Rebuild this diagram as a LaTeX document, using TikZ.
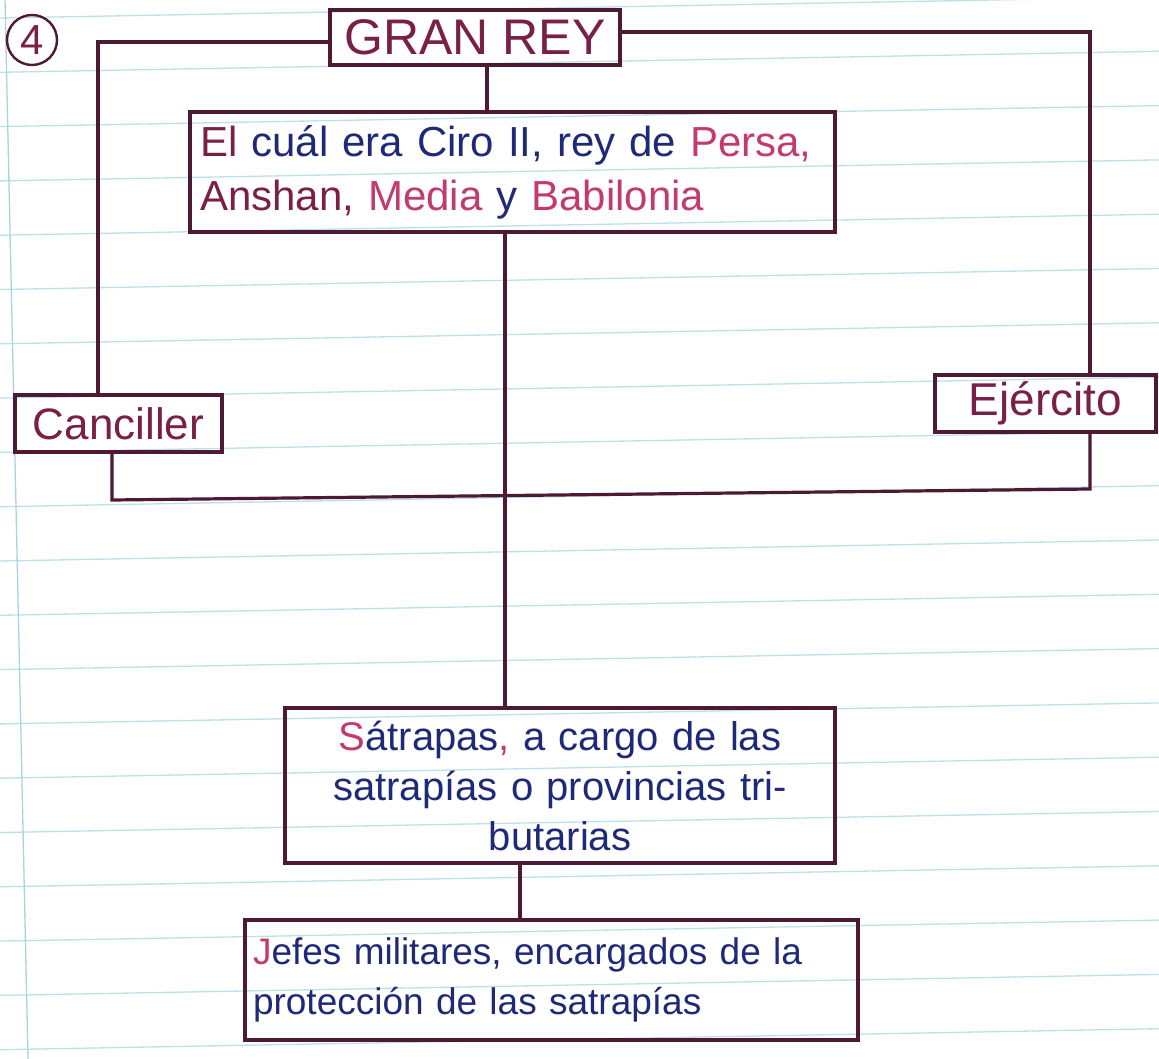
\documentclass[tikz,border=0pt]{standalone}
\usepackage{fontspec}
\setmainfont{Liberation Sans}
\definecolor{ink}{HTML}{4E1A33}
\definecolor{maroonink}{HTML}{7A1F45}
\definecolor{pinkink}{HTML}{C23A6E}
\definecolor{navyink}{HTML}{1E2A78}
\definecolor{rulec}{HTML}{BBE0E8}
\definecolor{marginc}{HTML}{A8D4E2}
\tikzset{
  boxnode/.style={draw=ink, line width=3.2pt, rectangle, inner ysep=0pt},
  conn/.style={draw=ink, line width=3.2pt},
  bodytext/.style={font=\fontsize{40}{50}\selectfont, text=navyink},
}
\begin{document}
\begin{tikzpicture}[x=1pt,y=-1pt]
\useasboundingbox (0,0) rectangle (1159,1059);
\fill[white] (0,0) rectangle (1159,1059);
% lined paper
\foreach \k in {0,...,19}{
  \draw[rulec, line width=1.3pt] (0,{18+54.3*\k}) -- (1159,{18+54.3*\k-21});
}
\draw[marginc, line width=1.3pt] (5,0) -- (28,1059);

% nodes
\node[draw=ink, line width=2.4pt, circle, minimum size=50pt, inner sep=0pt,
      text=maroonink, font=\fontsize{42}{44}\selectfont] (n4) at (32,40) {4};
\node[boxnode, minimum width=290pt, minimum height=55pt,
      text=maroonink, font=\fontsize{50}{54}\selectfont] (rey) at (475,37.5) {GRAN REY};
\node[boxnode, bodytext, font=\fontsize{42}{54}\selectfont, text width=625pt, inner xsep=10pt, align=left,
      minimum height=120pt] (ciro) at (512.5,172)
  {\textcolor{maroonink}{El} cuál era Ciro II, rey de \textcolor{pinkink}{Persa,}\\
   \textcolor{maroonink}{Anshan,} \textcolor{pinkink}{Media} y \textcolor{pinkink}{Babilonia}};
\node[boxnode, minimum width=207pt, minimum height=57pt,
      text=maroonink, font=\fontsize{44}{48}\selectfont] (canc) at (118.5,423.5) {Canciller};
\node[boxnode, minimum width=221pt, minimum height=57pt,
      text=maroonink, font=\fontsize{46}{50}\selectfont] (ejer) at (1045.5,403.5) {Ejército};
\node[boxnode, bodytext, text width=530pt, inner xsep=10pt, align=center,
      minimum height=155pt] (satr) at (560,785.5)
  {\textcolor{pinkink}{S}átrapas\textcolor{pinkink}{,} a cargo de las\\
   satrapías o provincias tri-\\
   butarias};
\node[boxnode, bodytext, font=\fontsize{37}{50}\selectfont, text width=597pt, inner xsep=8pt, align=left,
      minimum height=120pt] (jefes) at (551.5,980)
  {\textcolor{pinkink}{J}efes militares, encargados de la\\
   protección de las satrapías};

% connectors
\coordinate (lt) at (98,42);
\coordinate (rt) at (1090,32);
\coordinate (mv) at (505,0);
\coordinate (bl) at (112,500);
\coordinate (br) at (1090,489);
\coordinate (rv) at (487,0);
\coordinate (sv) at (520,0);
\draw[conn] (rey.west |- lt) -- (lt) -- (lt |- canc.north);
\draw[conn] (rey.east |- rt) -- (rt) -- (rt |- ejer.north);
\draw[conn] (rey.south -| rv) -- (ciro.north -| rv);
\draw[conn] (ciro.south -| mv) -- (satr.north -| mv);
\draw[conn] (canc.south -| bl) -- (bl) -- (br) -- (ejer.south -| br);
\draw[conn] (satr.south -| sv) -- (jefes.north -| sv);
\end{tikzpicture}
\end{document}
